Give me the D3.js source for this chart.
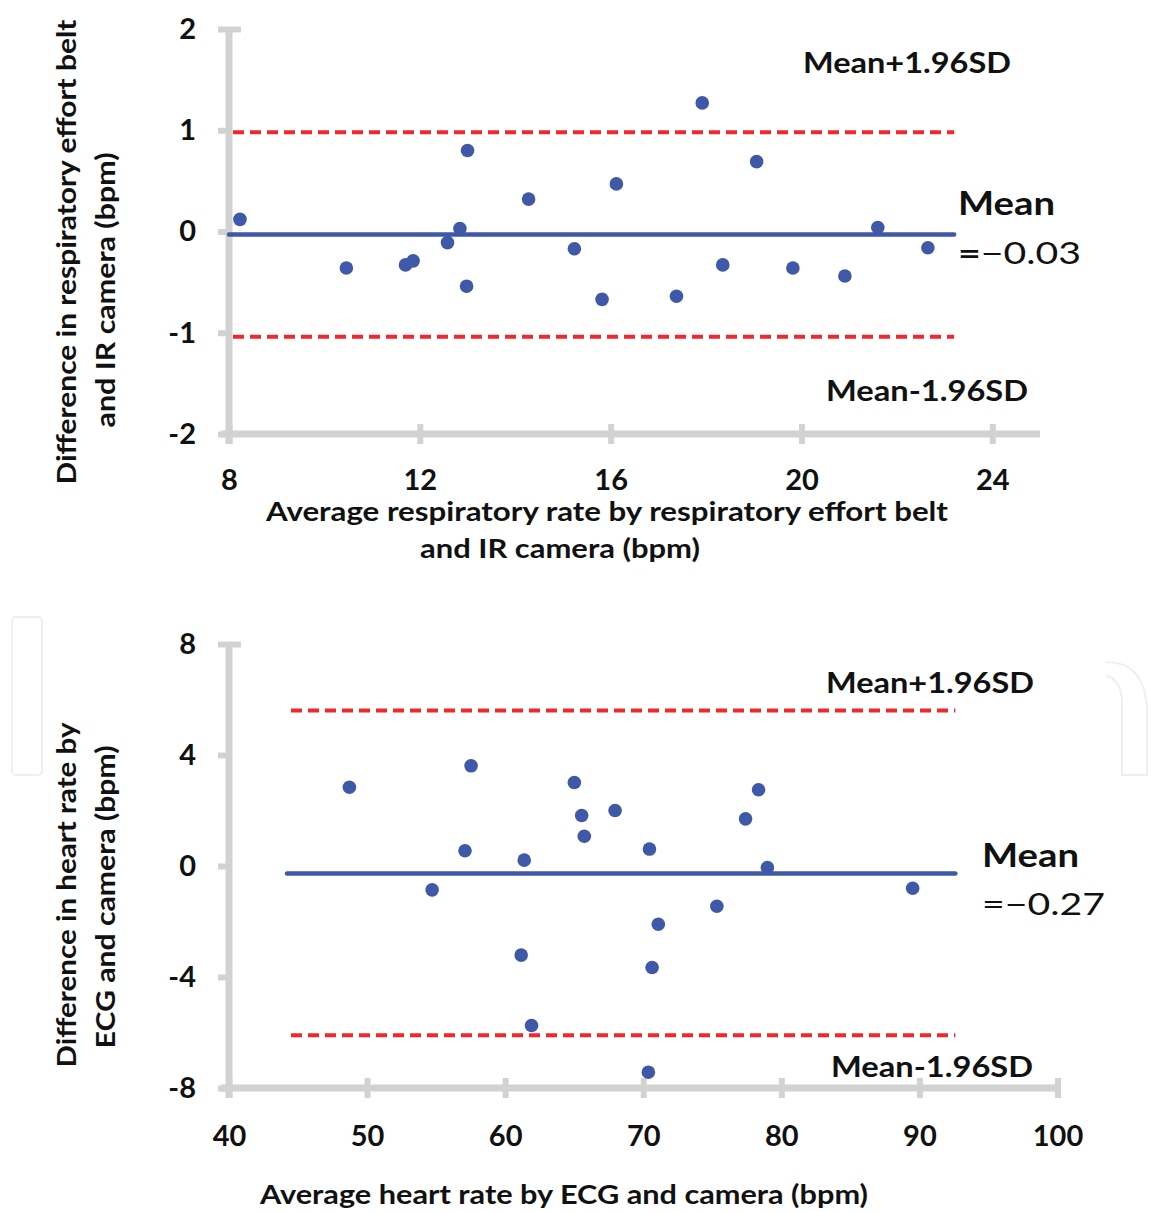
<!DOCTYPE html>
<html>
<head>
<meta charset="utf-8">
<script src="https://cdn.jsdelivr.net/npm/d3@7"></script>
<style>
  body { margin: 0; background: #fff; }
  text { font-family: Lato, "Open Sans", sans-serif; fill: #111; }
  .tick text { font-size: 29px; font-weight: bold; }
  .axis-title { font-size: 27px; font-weight: bold; }
  .band-label { font-size: 29px; font-weight: bold; }
  .mean-label { font-size: 32px; font-weight: bold; }
  .mean-value { font-size: 30px; }
</style>
</head>
<body>
<svg width="1151" height="1212"></svg>
<script>
// respiratory rate: belt vs IR camera
const respAvg  = [8.23, 10.46, 11.70, 11.86, 12.58, 12.84, 13.00, 12.98, 14.28, 15.24,
                  15.82, 16.12, 17.38, 17.92, 18.35, 19.06, 19.82, 20.91, 21.60, 22.65];
const respDiff = [0.12, -0.36, -0.33, -0.29, -0.11, 0.03, 0.80, -0.54, 0.32, -0.17,
                  -0.67, 0.47, -0.64, 1.27, -0.33, 0.69, -0.36, -0.44, 0.04, -0.16];
const respMean = -0.03, respUpper = 0.98, respLower = -1.04;
const respXTicks = [8, 12, 16, 20, 24];
const respYTicks = [-2, -1, 0, 1, 2];

// heart rate: ECG vs camera
const hrAvg  = [48.72, 54.71, 57.09, 57.53, 61.16, 61.38, 61.91, 65.01, 65.54, 65.73,
                67.96, 70.45, 71.09, 70.64, 70.37, 75.33, 77.41, 78.35, 78.99, 89.51];
const hrDiff = [2.84, -0.86, 0.55, 3.61, -3.21, 0.21, -5.75, 3.01, 1.82, 1.07,
                2.00, 0.61, -2.10, -3.66, -7.43, -1.45, 1.70, 2.75, -0.06, -0.80];
const hrMean = -0.27, hrUpper = 5.60, hrLower = -6.10;
const hrXTicks = [40, 50, 60, 70, 80, 90, 100];
const hrYTicks = [-8, -4, 0, 4, 8];

const svg = d3.select('svg');
const gray = '#d2d2d2', blue = '#3f58a8', red = '#f0282d';

// faint watermark shapes behind the lower chart
svg.append('rect')
  .attr('x', 12).attr('y', 617).attr('width', 30).attr('height', 158).attr('rx', 4)
  .attr('fill', 'none').attr('stroke', '#efefef').attr('stroke-width', 2);
svg.append('path')
  .attr('d', 'M1106,662 Q1146,662 1147,712 L1147,775 L1122,775 L1122,700 Q1120,678 1106,676')
  .attr('fill', 'none').attr('stroke', '#efefef').attr('stroke-width', 2);

const panel = p => {
  const x = d3.scaleLinear().domain(p.xDomain).range(p.xRange);
  const y = d3.scaleLinear().domain(p.yDomain).range(p.yRange);
  const fmt = d => String(d);  // plain hyphen minus, no decimals
  const g = svg.append('g');

  // axis lines
  g.append('line')
    .attr('x1', x(p.xDomain[0])).attr('x2', x(p.xDomain[0]))
    .attr('y1', y(p.yDomain[1])).attr('y2', y(p.yDomain[0]) + 10)
    .attr('stroke', gray).attr('stroke-width', 7);
  g.append('line')
    .attr('x1', x(p.xDomain[0]) - 8).attr('x2', x(p.xDomain[1]))
    .attr('y1', y(p.yDomain[0])).attr('y2', y(p.yDomain[0]))
    .attr('stroke', gray).attr('stroke-width', 7);

  const yAxisG = g.append('g')
    .attr('transform', `translate(${x(p.xDomain[0])},0)`)
    .call(d3.axisLeft(y).tickValues(p.yTicks).tickFormat(fmt)
      .tickSizeInner(11).tickSizeOuter(0).tickPadding(22));
  yAxisG.select('.domain').remove();
  yAxisG.selectAll('.tick line')
    .attr('x1', d => d === p.yDomain[1] ? 12 : 3)
    .attr('stroke', gray).attr('stroke-width', 6);

  const xAxisG = g.append('g')
    .attr('transform', `translate(0,${y(p.yDomain[0])})`)
    .call(d3.axisBottom(x).tickValues(p.xTicks).tickFormat(fmt)
      .tickSizeInner(10).tickSizeOuter(0).tickPadding(p.xPad));
  xAxisG.select('.domain').remove();
  xAxisG.selectAll('.tick line')
    .attr('y1', -10)
    .attr('stroke', gray).attr('stroke-width', 6);
  g.selectAll('.tick text').attr('fill', '#111');

  // limits of agreement
  [p.upper, p.lower].forEach(v => {
    g.append('line')
      .attr('x1', x(p.lineFrom) + 4).attr('x2', x(p.lineTo))
      .attr('y1', y(v)).attr('y2', y(v))
      .attr('stroke', red).attr('stroke-width', 4)
      .attr('stroke-dasharray', '11 6');
  });
  g.append('line')
    .attr('x1', x(p.lineFrom)).attr('x2', x(p.lineTo))
    .attr('y1', y(p.mean)).attr('y2', y(p.mean))
    .attr('stroke', blue).attr('stroke-width', 4.5).attr('stroke-linecap', 'round');

  g.selectAll('circle')
    .data(d3.zip(p.avg, p.diff))
    .join('circle')
      .attr('cx', d => x(d[0]))
      .attr('cy', d => y(d[1]))
      .attr('r', 6.8)
      .attr('fill', blue);

  const label = (cls, tx, ty, len, txt) => g.append('text')
    .attr('class', cls).attr('x', tx).attr('y', ty)
    .attr('textLength', len).attr('lengthAdjust', 'spacingAndGlyphs')
    .text(txt);

  label('band-label', p.upLab[0], p.upLab[1], p.upLab[2], 'Mean+1.96SD');
  label('band-label', p.loLab[0], p.loLab[1], p.loLab[2], 'Mean-1.96SD');
  label('mean-label', p.meanLab[0], p.meanLab[1], 97, 'Mean');
  const mv = g.append('text')
    .attr('class', 'mean-value').attr('x', p.meanLab[0]).attr('y', p.meanLab[2])
    .attr('textLength', p.meanLab[3]).attr('lengthAdjust', 'spacingAndGlyphs');
  mv.append('tspan').attr('font-weight', p.boldEq ? 'bold' : 'normal').text('=');
  mv.append('tspan').text('\u2212' + Math.abs(p.mean).toFixed(2));

  p.xTitle.forEach(t => {
    g.append('text').attr('class', 'axis-title')
      .attr('x', t[0]).attr('y', t[1])
      .attr('text-anchor', 'middle')
      .attr('textLength', t[2]).attr('lengthAdjust', 'spacingAndGlyphs')
      .text(t[3]);
  });
  p.yTitle.forEach(t => {
    g.append('text').attr('class', 'axis-title')
      .attr('transform', `translate(${t[0]},${t[1]}) rotate(-90)`)
      .attr('text-anchor', 'middle')
      .attr('textLength', t[2]).attr('lengthAdjust', 'spacingAndGlyphs')
      .text(t[3]);
  });
};

panel({
  xDomain: [8, 25], xRange: [229, 1040],
  yDomain: [-2, 2], yRange: [434, 29],
  xTicks: respXTicks, yTicks: respYTicks, xPad: 25,
  avg: respAvg, diff: respDiff,
  mean: respMean, upper: respUpper, lower: respLower,
  lineFrom: 8, lineTo: 23.2,
  upLab: [803, 73, 208], loLab: [826, 401, 202],
  meanLab: [958, 215, 264, 123], boldEq: true,
  xTitle: [[607, 521, 682, 'Average respiratory rate by respiratory effort belt'],
           [560, 558, 280, 'and IR camera (bpm)']],
  yTitle: [[76, 252, 465, 'Difference in respiratory effort belt'],
           [115, 290, 275, 'and IR camera (bpm)']]
});

panel({
  xDomain: [40, 100], xRange: [229, 1057.5],
  yDomain: [-8, 8], yRange: [1088, 644],
  xTicks: hrXTicks, yTicks: hrYTicks, xPad: 27,
  avg: hrAvg, diff: hrDiff,
  mean: hrMean, upper: hrUpper, lower: hrLower,
  lineFrom: 44.2, lineTo: 92.6,
  upLab: [826, 693, 208], loLab: [831, 1077, 202],
  meanLab: [982, 867, 915, 123], boldEq: false,
  xTitle: [[564, 1204, 608, 'Average heart rate by ECG and camera (bpm)']],
  yTitle: [[76, 895, 345, 'Difference in heart rate by'],
           [115, 897, 303, 'ECG and  camera (bpm)']]
});
</script>
</body>
</html>
